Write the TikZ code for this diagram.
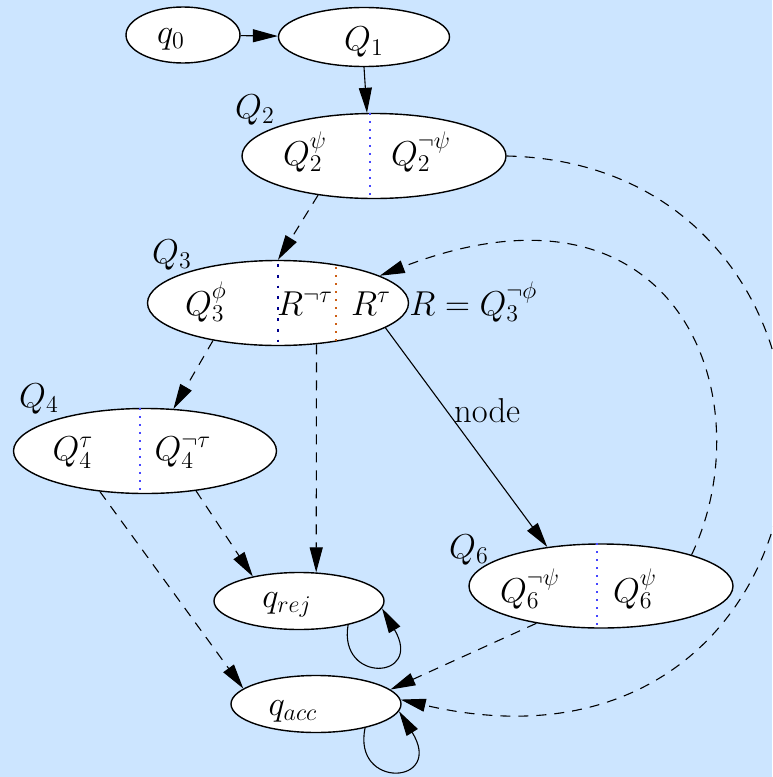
\documentclass[tikz,border=0pt]{standalone}
\usetikzlibrary{arrows.meta,shapes.geometric}
\definecolor{bgblue}{RGB}{204,229,255}
\definecolor{sepblue}{RGB}{70,70,255}
\definecolor{sepnavy}{RGB}{0,0,140}
\definecolor{seporange}{RGB}{205,95,20}

\begin{document}
\begin{tikzpicture}[x=0.5pt,y=-0.5pt,>={Triangle[length=12.5pt,width=6.5pt]},every node/.style={font=\LARGE},
  st/.style={draw,ellipse,fill=white,line width=0.7pt,inner sep=0pt},
  big/.style={st,minimum width=132pt,minimum height=42.5pt},
  small/.style={st,minimum width=85pt,minimum height=28.5pt},
  txt/.style={anchor=base,inner sep=0pt},
  tr/.style={->,line width=0.55pt},
  dtr/.style={tr,dash pattern=on 5pt off 4pt},
  sep/.style={sepblue,line width=1pt,dash pattern=on 1pt off 3pt}]
\useasboundingbox[fill=bgblue] (0,0) rectangle (772,777);
% states
\node[st,minimum width=57pt,minimum height=28pt] (q0) at (183,35) {};
\node[st,minimum width=85.5pt,minimum height=29.5pt] (Q1) at (364,37) {};
\node[big] (Q2) at (374,156) {};
\node[big,minimum width=130.5pt] (Q3) at (278,303) {};
\node[big,minimum width=131.5pt] (Q4) at (145,451) {};
\node[big,minimum height=42pt] (Q6) at (601,586) {};
\node[small] (qrej) at (299,601) {};
\node[small] (qacc) at (316,704) {};
% parts
\draw[sep] ([xshift=-2pt]Q2.north) -- ([xshift=-2pt]Q2.south);
\draw[sepnavy,line width=1.4pt,dash pattern=on 1.4pt off 4pt] (278,264) -- (278,343);
\draw[seporange,line width=0.7pt,dash pattern=on 0.8pt off 3.2pt] (336,267) -- (336,341);
\draw[sep] ([xshift=-2.5pt]Q4.north) -- ([xshift=-2.5pt]Q4.south);
\draw[sep] ([xshift=-2pt]Q6.north) -- ([xshift=-2pt]Q6.south);
% texts
\node[txt] (q0t) at (171,43) {$q_0$};
\node[txt] (Q1t) at (364,50) {$Q_1$};
\node[txt] (Q2a) at (305,165) {$Q_2^{\psi}$};
\node[txt] (Q2b) at (421,165) {$Q_2^{\neg\psi}$};
\node[txt] (Q3a) at (206,315) {$Q_3^{\phi}$};
\node[txt] (Q3b) at (305,315) {$R^{\neg\tau}$};
\node[txt] (Q3c) at (371,315) {$R^{\tau}$};
\node[txt,anchor=base west] (Rdef) at (409,315) {$R=Q_3^{\neg\phi}$};
\node[txt] (Q4a) at (73,460) {$Q_4^{\tau}$};
\node[txt] (Q4b) at (183,460) {$Q_4^{\neg\tau}$};
\node[txt] (Q6a) at (530,602) {$Q_6^{\neg\psi}$};
\node[txt] (Q6b) at (635,602) {$Q_6^{\psi}$};
\node[txt] (qrejt) at (287,607) {$q_{rej}$};
\node[txt] (qacct) at (293,715) {$q_{acc}$};
% set names
\node[txt] (Q2l) at (255,118) {$Q_2$};
\node[txt] (Q3l) at (172,263) {$Q_3$};
\node[txt] (Q4l) at (39,407) {$Q_4$};
\node[txt] (Q6l) at (469,558) {$Q_6$};
% transitions
\draw[tr] (q0) -- (Q1);
\draw[tr] (Q1.south) -- ([xshift=-3.5pt]Q2.north);
\draw[dtr] (Q2.east) .. controls (690,160) and (786,300) .. (786,440)
  .. controls (786,600) and (660,760) .. (qacc.3);
\draw[dtr] (Q2.-145) -- (Q3.north);
\draw[dtr] (Q6.19) .. controls (765,400) and (680,160) .. (Q3.15);
\draw[dtr] (Q3.-150) -- (Q4.56);
\draw[dtr] (Q3.-47) -- (qrej.59);
\draw[tr] (Q3.-13) -- node[pos=0.38,right] {node} (Q6.144);
\draw[dtr] (Q4.-38) -- (qrej.152);
\draw[dtr] (Q4.-138) -- (qacc.168);
\draw[dtr] (Q6.-150) -- (qacc.11);
\draw[tr] (qrej.-26) .. controls (338,684) and (424,680) .. (qrej.-5);
\draw[tr] (qacc.-26) .. controls (352,790) and (445,785) .. (qacc.-5);
\end{tikzpicture}
\end{document}
